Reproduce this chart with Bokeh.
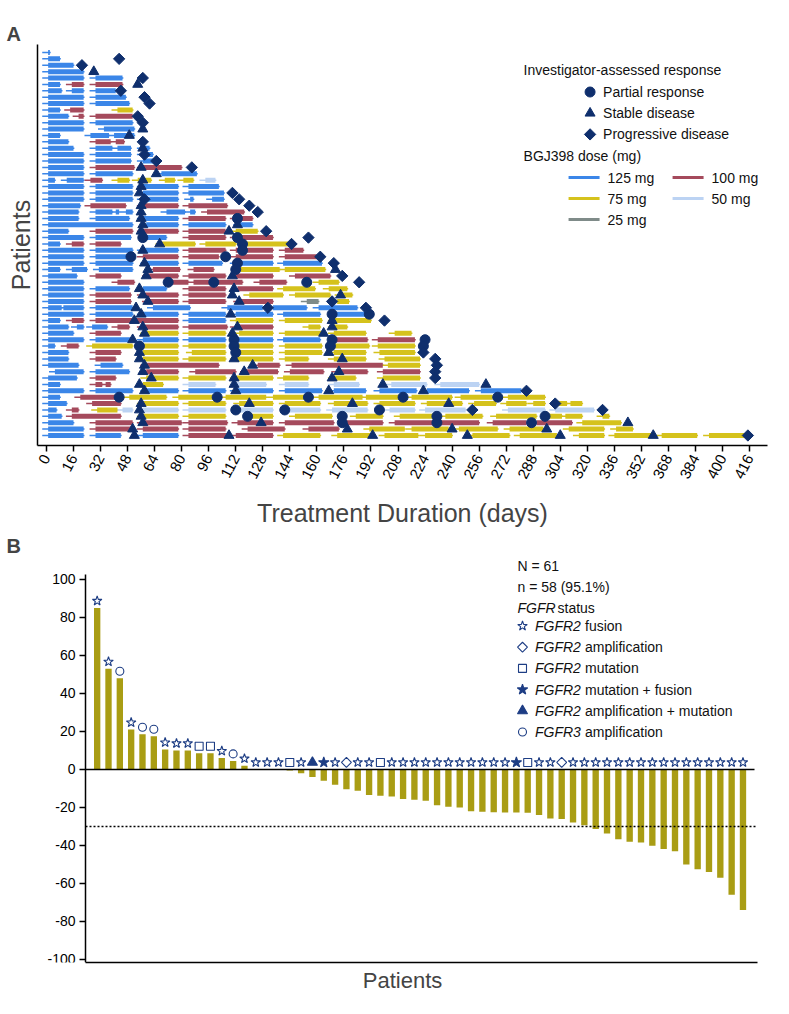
import math
from bokeh.plotting import figure
from bokeh.layouts import column
from bokeh.models import Range1d, FixedTicker, LinearAxis
from bokeh.embed import file_html
from bokeh.resources import INLINE
from bokeh.core.properties import value

FONT = "Liberation Sans"

# ---------------- Panel A data (swimmer plot) ----------------
x_ticks = list(range(0, 417, 16))
dose_levels = [125, 100, 75, 50, 25]
dose_labels = ["125 mg", "100 mg", "75 mg", "50 mg", "25 mg"]
response_types = ["PR", "SD", "PD"]
response_labels = ["Partial response", "Stable disease", "Progressive disease"]

# per patient: (start day, end day, dose mg)
patient_segments = [
    [(1, 2, 125)],
    [(1, 8, 125)],
    [(1, 16, 125)],
    [(1, 22, 125)],
    [(1, 22, 125), (29, 45, 125)],
    [(1, 8, 125), (15, 22, 100), (29, 45, 100)],
    [(1, 9, 125), (15, 22, 125), (29, 41, 125)],
    [(1, 22, 125), (29, 47, 125)],
    [(1, 22, 125), (29, 49, 125)],
    [(1, 8, 125), (14, 22, 100), (42, 51, 75)],
    [(1, 13, 125), (19, 22, 100), (29, 51, 100)],
    [(1, 22, 125), (29, 51, 125)],
    [(1, 22, 125), (34, 52, 125)],
    [(1, 8, 125), (26, 37, 125), (40, 52, 125)],
    [(1, 13, 125), (29, 38, 100), (41, 46, 100)],
    [(1, 16, 125), (29, 39, 125), (42, 50, 125), (57, 61, 125)],
    [(1, 22, 125), (29, 50, 125), (57, 63, 125)],
    [(1, 22, 125), (29, 50, 125), (57, 64, 125)],
    [(1, 22, 125), (29, 52, 100), (57, 80, 100)],
    [(1, 22, 125), (29, 51, 125), (68, 89, 125)],
    [(1, 5, 125), (12, 22, 125), (26, 33, 100), (42, 49, 75), (54, 62, 75), (70, 76, 75), (81, 87, 75), (94, 100, 50)],
    [(1, 22, 125), (29, 51, 125), (57, 78, 125), (84, 102, 125)],
    [(1, 22, 125), (29, 51, 125), (57, 78, 125), (84, 105, 125)],
    [(1, 22, 125), (29, 51, 125), (57, 78, 125), (85, 87, 125), (98, 105, 125)],
    [(1, 20, 125), (26, 47, 100), (57, 78, 100), (84, 107, 100)],
    [(1, 19, 125), (29, 39, 125), (41, 43, 125), (47, 51, 125), (71, 82, 125), (85, 88, 125), (95, 117, 100)],
    [(1, 19, 125), (29, 49, 125), (57, 78, 125), (84, 106, 100), (112, 122, 100)],
    [(1, 51, 125), (59, 78, 125), (84, 106, 125), (114, 122, 125)],
    [(1, 13, 125), (29, 51, 100), (57, 78, 100), (84, 106, 100), (112, 125, 75)],
    [(1, 22, 125), (29, 50, 125), (59, 71, 125), (84, 106, 100), (112, 134, 100)],
    [(1, 8, 125), (15, 22, 100), (29, 44, 100), (68, 88, 75), (94, 112, 75), (116, 143, 75)],
    [(1, 22, 125), (29, 51, 125), (57, 78, 125), (84, 106, 100), (112, 134, 100), (141, 152, 100)],
    [(1, 22, 125), (29, 49, 125), (57, 78, 100), (84, 102, 100), (112, 134, 100), (141, 160, 100)],
    [(1, 22, 125), (29, 51, 125), (59, 78, 125), (84, 104, 125), (112, 134, 125), (140, 163, 125)],
    [(1, 8, 125), (15, 24, 125), (31, 51, 125), (63, 79, 100), (87, 99, 100), (115, 138, 75), (141, 165, 75)],
    [(1, 18, 125), (29, 44, 100), (60, 78, 100), (84, 106, 100), (112, 134, 100), (147, 168, 100)],
    [(1, 22, 125), (42, 52, 100), (73, 84, 100), (87, 116, 100), (126, 142, 100), (161, 173, 75)],
    [(1, 22, 125), (29, 49, 125), (57, 71, 125), (84, 106, 100), (113, 134, 100), (140, 159, 75), (167, 178, 75)],
    [(1, 22, 125), (29, 50, 100), (57, 78, 100), (84, 106, 100), (120, 140, 75), (147, 168, 75), (174, 181, 75)],
    [(1, 22, 125), (29, 50, 100), (60, 78, 100), (84, 106, 100), (114, 134, 100), (154, 161, 25), (172, 179, 75)],
    [(1, 9, 125), (10, 22, 125), (29, 51, 125), (63, 85, 125), (107, 128, 125), (134, 154, 125), (161, 184, 125)],
    [(1, 22, 125), (29, 51, 125), (57, 78, 125), (84, 106, 125), (112, 134, 125), (140, 162, 125), (170, 189, 125)],
    [(1, 8, 125), (15, 22, 100), (29, 51, 100), (53, 78, 100), (84, 106, 125), (112, 134, 75), (141, 163, 75), (170, 192, 75)],
    [(1, 13, 125), (18, 22, 125), (27, 36, 125), (42, 49, 100), (57, 78, 100), (84, 107, 100), (112, 134, 100), (155, 162, 75), (170, 178, 75)],
    [(1, 16, 125), (29, 44, 100), (59, 78, 75), (84, 106, 75), (114, 134, 75), (141, 163, 75), (170, 189, 75), (206, 216, 75)],
    [(1, 22, 125), (29, 51, 125), (57, 78, 125), (84, 106, 125), (112, 134, 125), (140, 162, 125), (170, 190, 100), (196, 218, 100)],
    [(1, 5, 125), (12, 19, 100), (27, 51, 75), (57, 78, 75), (84, 106, 75), (112, 134, 75), (141, 163, 75), (170, 191, 75), (196, 218, 75)],
    [(1, 13, 125), (29, 44, 100), (57, 78, 75), (86, 106, 75), (114, 134, 75), (141, 163, 75), (170, 189, 75), (197, 218, 75)],
    [(1, 13, 125), (29, 41, 100), (57, 78, 75), (84, 106, 75), (112, 134, 75), (141, 155, 75), (170, 189, 75), (200, 221, 75)],
    [(1, 19, 125), (32, 45, 125), (59, 102, 100), (125, 138, 100), (145, 199, 100), (202, 221, 75)],
    [(5, 22, 125), (29, 49, 125), (59, 78, 100), (88, 112, 100), (118, 137, 100), (144, 164, 100), (172, 190, 100), (199, 221, 100)],
    [(1, 18, 125), (29, 41, 100), (59, 78, 75), (84, 106, 75), (112, 134, 75), (140, 155, 75), (170, 183, 75), (199, 221, 75)],
    [(1, 8, 125), (29, 33, 100), (35, 38, 100), (57, 69, 75), (84, 100, 50), (112, 130, 50), (141, 155, 50), (170, 185, 50), (204, 225, 50), (233, 256, 50)],
    [(1, 22, 125), (29, 51, 125), (59, 78, 125), (84, 106, 125), (112, 134, 125), (141, 163, 125), (170, 189, 125), (197, 219, 125), (225, 250, 125), (257, 281, 125)],
    [(1, 8, 125), (20, 42, 100), (49, 71, 75), (78, 101, 75), (106, 130, 75), (134, 153, 75), (161, 187, 75), (189, 209, 75), (216, 240, 75), (245, 264, 75), (273, 295, 75)],
    [(1, 12, 125), (27, 44, 100), (57, 78, 75), (84, 106, 75), (114, 134, 75), (141, 162, 75), (170, 190, 75), (197, 218, 75), (225, 246, 75), (253, 266, 75), (272, 284, 75), (288, 295, 75), (302, 308, 75), (310, 317, 75)],
    [(1, 6, 125), (15, 19, 100), (30, 42, 75), (45, 51, 50), (57, 78, 50), (84, 106, 50), (114, 134, 50), (144, 162, 50), (169, 190, 50), (203, 218, 50), (224, 248, 50), (273, 295, 50), (301, 324, 50)],
    [(1, 9, 125), (15, 44, 100), (57, 78, 75), (84, 106, 75), (120, 134, 75), (147, 169, 75), (183, 199, 75), (209, 233, 75), (236, 258, 75), (266, 290, 75), (296, 305, 75), (307, 317, 75), (329, 333, 75)],
    [(1, 16, 125), (29, 51, 100), (57, 80, 100), (84, 107, 100), (113, 134, 100), (141, 170, 100), (176, 199, 100), (206, 229, 100), (233, 256, 100), (264, 284, 100), (290, 311, 100), (317, 340, 75)],
    [(1, 22, 125), (29, 50, 100), (57, 78, 100), (84, 106, 100), (119, 141, 100), (155, 173, 100), (191, 212, 75), (216, 238, 75), (244, 267, 75), (274, 294, 75), (309, 330, 75), (337, 347, 75)],
    [(1, 22, 125), (29, 44, 125), (57, 78, 125), (84, 107, 100), (112, 134, 100), (140, 162, 75), (172, 192, 75), (200, 220, 75), (224, 240, 75), (252, 274, 75), (280, 302, 75), (315, 330, 75), (336, 358, 75), (364, 385, 75), (392, 414, 75)],
]

# per patient: (assessment day, response)
patient_responses = [
    [], [(43, "PD")], [(21, "PD")], [(28, "SD")], [(57, "PD")], [(54, "SD")], [(44, "PD")],
    [(58, "PD")], [(61, "PD")], [], [(54, "PD")], [(57, "PD")], [(57, "SD")], [(49, "SD")],
    [(57, "PD")], [(57, "SD")], [(58, "PD")], [(65, "PD")], [(56, "SD"), (86, "PD")],
    [(65, "SD")], [(57, "SD")], [(56, "SD")], [(55, "SD"), (110, "PD")],
    [(58, "PD"), (114, "PD")], [(56, "SD"), (120, "PD")], [(56, "SD"), (125, "PD")],
    [(56, "SD"), (113, "PR")], [(57, "SD"), (113, "SD")],
    [(56, "SD"), (108, "SD"), (130, "PD")], [(57, "PR"), (113, "PR"), (155, "PD")],
    [(67, "SD"), (116, "PR"), (145, "PD")], [(57, "SD"), (116, "PR")],
    [(50, "PR"), (106, "PR"), (162, "PD")], [(58, "SD"), (113, "PR"), (170, "PD")],
    [(60, "SD"), (112, "PR"), (171, "SD")], [(59, "SD"), (110, "SD"), (175, "PD")],
    [(72, "PR"), (99, "PR"), (154, "PR"), (185, "PD")], [(55, "SD"), (111, "SD")],
    [(57, "SD"), (110, "SD"), (174, "SD")], [(60, "SD"), (114, "SD"), (169, "PD")],
    [(53, "SD"), (131, "PD"), (189, "PD")], [(56, "SD"), (109, "SD"), (169, "PR"), (191, "PR")],
    [(52, "SD"), (169, "SD"), (200, "PD")], [(57, "SD"), (113, "SD"), (169, "SD")],
    [(58, "SD"), (110, "SD"), (164, "SD")], [(51, "SD"), (111, "PR"), (169, "PR"), (224, "PR")],
    [(55, "PR"), (111, "PR"), (168, "PR"), (223, "PR")], [(55, "SD"), (112, "PR"), (167, "SD"), (223, "PD")],
    [(55, "SD"), (111, "SD"), (175, "SD"), (230, "PD")], [(58, "SD"), (122, "SD"), (231, "PD")],
    [(57, "SD"), (117, "SD"), (173, "SD"), (230, "PD")], [(62, "SD"), (111, "SD"), (169, "SD"), (230, "PD")],
    [(55, "SD"), (111, "SD"), (199, "SD"), (260, "SD")],
    [(58, "SD"), (112, "SD"), (167, "SD"), (223, "SD"), (284, "PD")],
    [(43, "PR"), (101, "PR"), (155, "PR"), (211, "PR"), (267, "PR")],
    [(56, "SD"), (120, "SD"), (181, "SD"), (238, "SD"), (301, "PD")],
    [(55, "SD"), (112, "PR"), (141, "PR"), (197, "PR"), (252, "PD"), (329, "PD")],
    [(56, "SD"), (119, "PR"), (175, "PR"), (231, "PR"), (295, "PR")],
    [(57, "SD"), (127, "SD"), (175, "PR"), (231, "PR"), (287, "PR"), (344, "SD")],
    [(51, "SD"), (178, "SD"), (240, "SD"), (296, "SD")],
    [(52, "SD"), (108, "SD"), (193, "SD"), (249, "SD"), (304, "SD"), (359, "SD"), (415, "PD")],
]

# ---------------- Panel B data (waterfall) ----------------
wf_values = [85, 53, 48, 21, 18.5, 17.5, 10.5, 10, 10, 8.5, 8.5, 6, 4.5, 2,
             0, 0, 0, -0.5, -2, -4, -6, -8, -10.4, -11.2, -13.5, -13.9, -14.2,
             -15.6, -16, -16.5, -18.8, -19.6, -20, -22, -22.3, -22.5, -22.6,
             -22.7, -22.8, -24, -25.8, -26.1, -27.9, -29.3, -31.4, -33.7, -36.7,
             -38, -38.4, -40.2, -41.9, -43, -50, -52.5, -54, -57, -66, -74]
wf_status = (["F", "F", "A3", "F", "A3", "A3", "F", "F", "F", "M", "M", "F", "A3", "F",
              "F", "F", "F", "M", "F", "AM", "MF", "F", "A", "F", "F", "M"]
             + ["F"] * 11 + ["MF", "M", "F", "F", "A"] + ["F"] * 16)
status_codes = ["F", "A", "M", "MF", "AM", "A3"]
status_prefix = ["FGFR2", "FGFR2", "FGFR2", "FGFR2", "FGFR2", "FGFR3"]
status_rest = ["fusion", "amplification", "mutation", "mutation + fusion",
               "amplification + mutation", "amplification"]
y_ticks_b = list(range(-100, 101, 20))
n_total = 61
n_eval = 58

# ---------------- styles ----------------
dose_color = {125: "#3b86e8", 100: "#a54a5c", 75: "#d5c21c", 50: "#bcd3f3", 25: "#7f8b89"}
NAVY = "#0f2f6d"
BAR = "#a99d14"
MK = "#1d3d84"
Q = math.pi / 4
resp_marker = {"PR": ("circle", 10, 0.0), "SD": ("triangle", 10, 0.0), "PD": ("square", 8, Q)}
status_style = {
    "F": ("star", 10, False, 0.0), "A": ("square", 7, False, Q), "M": ("square", 8, False, 0.0),
    "MF": ("star", 11, True, 0.0), "AM": ("triangle", 10, True, 0.0), "A3": ("circle", 8, False, 0.0),
}

# page-pixel -> data helpers
def ax(px): return -5.3 + (px - 45) / 1.69
def ay(py): return -1.25 + (py - 52) / 6.383
B_SX = 11.33
B_SY = 1.9
B_X0 = -1.03 - (93 - 45) / B_SX       # data x at frame left (page 45)
def bx(px): return B_X0 + (px - 45) / B_SX
def by(py): return -101.6 + (970 - py) / B_SY

def style_title(p, offset):
    p.title.align = "left"
    p.title.offset = offset
    p.title.standoff = 0
    p.title.text_font = FONT
    p.title.text_font_size = "20px"
    p.title.text_font_style = "bold"

def ltext(p, x, y, t, size="14px", style="normal"):
    p.text(x=[x], y=[y], text=[t], text_font=value(FONT), text_font_size=size,
           text_font_style=style, text_baseline="middle", text_align="left", text_color="#111111")

# ================= Panel A =================
pA = figure(width=775, height=531, output_backend="svg", toolbar_location=None, title="A",
            x_range=Range1d(-5.3, 426.6), y_range=Range1d(61.57, -1.25),
            min_border_left=37, min_border_right=8, min_border_top=44, min_border_bottom=86)
pA.outline_line_color = None
pA.grid.visible = False
style_title(pA, -31)

xa = pA.xaxis[0]
xa.ticker = FixedTicker(ticks=x_ticks)
xa.major_label_orientation = 1.1
xa.major_tick_out = 6
xa.major_tick_in = 0
xa.minor_tick_out = 0
xa.minor_tick_in = 0
xa.axis_line_width = 1.5
xa.major_tick_line_width = 1.5
xa.major_label_standoff = 4
xa.major_label_text_font = FONT
xa.major_label_text_font_size = "15px"
xa.major_label_text_color = "black"
xa.axis_label = "Treatment Duration (days)"
xa.axis_label_text_font = FONT
xa.axis_label_text_font_size = "25px"
xa.axis_label_text_font_style = "normal"
xa.axis_label_standoff = 14

ya = pA.yaxis[0]
ya.ticker = FixedTicker(ticks=[])
ya.major_label_text_font_size = "0px"
ya.major_tick_out = 0
ya.minor_tick_out = 0
ya.axis_line_width = 1.5
ya.axis_label = "Patients"
ya.axis_label_text_font = FONT
ya.axis_label_text_font_size = "25px"
ya.axis_label_text_font_style = "normal"
ya.axis_label_standoff = 3

thin = dict(x0=[], x1=[], y=[], c=[])
thick = dict(x0=[], x1=[], y=[], c=[])
for i, segs in enumerate(patient_segments):
    for s, e, d in segs:
        thin["x0"].append(s - 3.5); thin["x1"].append(e + 0.5)
        thin["y"].append(i); thin["c"].append(dose_color[d])
        thick["x0"].append(s); thick["x1"].append(e)
        thick["y"].append(i); thick["c"].append(dose_color[d])
pA.segment(x0=thin["x0"], y0=thin["y"], x1=thin["x1"], y1=thin["y"],
           line_color=thin["c"], line_width=1.5)
pA.segment(x0=thick["x0"], y0=thick["y"], x1=thick["x1"], y1=thick["y"],
           line_color=thick["c"], line_width=5, line_cap="butt")

for rt in response_types:
    xs = [d for i, r in enumerate(patient_responses) for d, t in r if t == rt]
    ys = [i for i, r in enumerate(patient_responses) for d, t in r if t == rt]
    m, sz, ang = resp_marker[rt]
    pA.scatter(x=xs, y=ys, marker=m, size=sz, angle=ang, fill_color=NAVY, line_color=NAVY)

# legend A
ltext(pA, ax(531), ay(77), "Investigator-assessed response")
for k, (rt, lab) in enumerate(zip(response_types, response_labels)):
    yy = ay(99.5 + k * 21.2)
    m, sz, ang = resp_marker[rt]
    pA.scatter(x=[ax(597.5)], y=[yy], marker=m, size=sz, angle=ang, fill_color=NAVY, line_color=NAVY)
    ltext(pA, ax(610.5), yy, lab)
ltext(pA, ax(531), ay(163), "BGJ398 dose (mg)")
for k, (d, lab) in enumerate(zip(dose_levels, dose_labels)):
    col_k = k % 2
    row_k = k // 2
    x0 = 576 + col_k * 104
    yy = ay(185 + row_k * 21)
    pA.segment(x0=[ax(x0)], y0=[yy], x1=[ax(x0 + 31)], y1=[yy], line_color=dose_color[d], line_width=3)
    ltext(pA, ax(x0 + 39), yy, lab)

# ================= Panel B =================
y_end_b = -101.6 + (970 - 564) / B_SY
pB = figure(width=775, height=467, output_backend="svg", toolbar_location=None, title="B",
            x_range=Range1d(B_X0, B_X0 + 730 / B_SX), y_range=Range1d(-101.6, y_end_b),
            y_axis_location=None,
            min_border_left=37, min_border_right=8, min_border_top=25, min_border_bottom=36)
pB.outline_line_color = None
pB.grid.visible = False
style_title(pB, -31)

idx = list(range(len(wf_values)))
x_left_b, x_right_b = bx(93), bx(765)
pB.vbar(x=idx, top=wf_values, width=0.56, fill_color=BAR, line_color=None)
pB.segment(x0=[x_left_b], y0=[0], x1=[bx(762)], y1=[0], line_color="black", line_width=1.5)
pB.segment(x0=[x_left_b], y0=[-30], x1=[x_right_b], y1=[-30], line_color="black",
           line_width=1.5, line_dash="2 2")

for code in status_codes:
    xs = [i for i, s in enumerate(wf_status) if s == code]
    ys = [max(wf_values[i], 0) + 3.7 for i in xs]
    m, sz, filled, ang = status_style[code]
    pB.scatter(x=xs, y=ys, marker=m, size=sz, angle=ang, line_color=MK, line_width=1.1,
               fill_color=MK if filled else "white", fill_alpha=1.0 if filled else 0.0)

yb = LinearAxis(fixed_location=x_left_b)
yb.ticker = FixedTicker(ticks=y_ticks_b)
yb.major_label_overrides = {t: str(t) for t in y_ticks_b}
yb.bounds = (-101.6, 102.6)
yb.major_tick_out = 6
yb.major_tick_in = 0
yb.minor_tick_out = 0
yb.minor_tick_in = 0
yb.axis_line_width = 1.5
yb.major_tick_line_width = 1.5
yb.major_label_standoff = 4
yb.major_label_text_font = FONT
yb.major_label_text_font_size = "14px"
yb.major_label_text_color = "black"
yb.axis_label = "Best Change From Baseline (%)"
yb.axis_label_text_font = FONT
yb.axis_label_text_font_size = "20px"
yb.axis_label_text_font_style = "normal"
yb.axis_label_standoff = 13
pB.add_layout(yb, "left")

xb = pB.xaxis[0]
xb.ticker = FixedTicker(ticks=[])
xb.bounds = (x_left_b, x_right_b)
xb.major_label_text_font_size = "0px"
xb.major_tick_out = 0
xb.minor_tick_out = 0
xb.axis_line_width = 1.5
xb.axis_label = "Patients"
xb.axis_label_text_font = FONT
xb.axis_label_text_font_size = "22px"
xb.axis_label_text_font_style = "normal"
xb.axis_label_standoff = 5

# legend B
ltext(pB, bx(525), by(573), f"N = {n_total}")
ltext(pB, bx(525), by(594), f"n = {n_eval} ({100 * n_eval / n_total:.1f}%)")
ltext(pB, bx(525), by(615), "FGFR", style="italic")
ltext(pB, bx(565), by(615), "status")
for k, code in enumerate(status_codes):
    yy = by(633.5 + k * 21.2)
    m, sz, filled, ang = status_style[code]
    pB.scatter(x=[bx(530)], y=[yy], marker=m, size=sz, angle=ang, line_color=MK, line_width=1.1,
               fill_color=MK if filled else "white", fill_alpha=1.0 if filled else 0.0)
    ltext(pB, bx(542.5), yy, status_prefix[k], style="italic")
    ltext(pB, bx(592.5), yy, status_rest[k])

layout = column(pA, pB, spacing=0)
open("out.html", "w").write(file_html(layout, INLINE))
